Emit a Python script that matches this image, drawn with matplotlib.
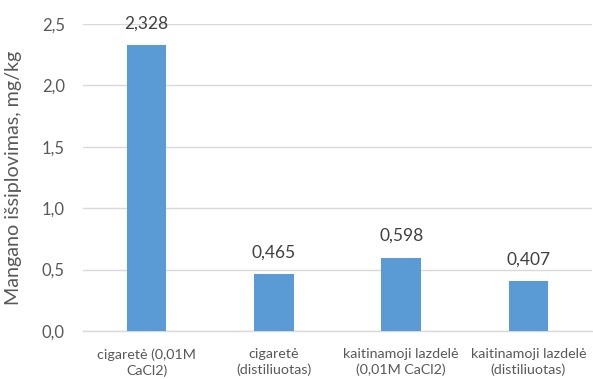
import matplotlib
matplotlib.use("Agg")
import matplotlib.pyplot as plt
from matplotlib.ticker import FuncFormatter

categories = ["cigaretė (0,01M\nCaCl2)", "cigaretė\n(distiliuotas)",
              "kaitinamoji lazdelė\n(0,01M CaCl2)", "kaitinamoji lazdelė\n(distiliuotas)"]
values = [2.328, 0.465, 0.598, 0.407]
yticks = [0.0, 0.5, 1.0, 1.5, 2.0, 2.5]

plt.rcParams['font.family'] = ['Lato', 'DejaVu Sans']
txt = '#595959'

fig = plt.figure(figsize=(5.93, 3.79), dpi=100)
ax = fig.add_axes([83/593, 1 - 331/379, (592 - 83)/593, (331 - 24)/379])

x = list(range(len(values)))
ax.bar(x, values, width=0.31, color='#5B9BD5', zorder=3)
for xi, v in zip(x, values):
    ax.text(xi, v + 0.11, f"{v:.3f}".replace('.', ','), ha='center', va='bottom',
            fontsize=12.5, color='#404040')

ax.set_xlim(-0.5, len(values) - 0.5)
ax.set_ylim(0, 2.5)
ax.set_yticks(yticks)
ax.yaxis.set_major_formatter(FuncFormatter(lambda v, p: f"{v:.1f}".replace('.', ',')))
ax.set_xticks(x)
ax.set_xticklabels(categories, fontsize=10.3, color=txt, linespacing=1.3)
ax.tick_params(axis='y', labelsize=12, colors=txt, length=0, pad=13)
ax.tick_params(axis='x', length=0, pad=12.5)
ax.grid(axis='y', color='#D9D9D9', linewidth=1, zorder=0)
for s in ['top', 'right', 'left']:
    ax.spines[s].set_visible(False)
ax.spines['bottom'].set_color('#D9D9D9')
ax.spines['bottom'].set_linewidth(1)
ax.set_ylabel("Mangano išsiplovimas, mg/kg", fontsize=14.2, color=txt)
ax.yaxis.set_label_coords(-61/509, 0.5)

fig.savefig("out.png", dpi=100)
